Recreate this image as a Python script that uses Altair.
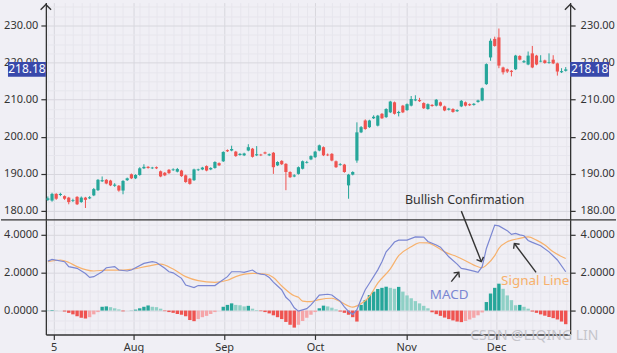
import altair as alt
import pandas as pd

# ---------------- data ----------------
OPEN = [183.0, 182.8, 184.6, 184.3, 184.0, 183.6, 182.7, 183.8, 182.4, 183.6,
        183.4, 184.2, 185.6, 188.0, 188.4, 188.2, 186.8, 186.8, 185.5, 188.3,
        189.9, 188.8, 189.7, 191.5, 191.9, 191.5, 191.8, 190.7, 190.3, 191.1,
        191.0, 190.6, 190.9, 189.6, 188.7, 188.3, 191.0, 191.2, 192.1, 191.2,
        191.6, 192.9, 193.4, 196.4, 196.3, 196.0, 195.1, 195.0, 196.3, 196.8,
        195.0, 195.2, 195.8, 195.0, 195.7, 192.3, 193.5, 192.7, 190.5, 189.3,
        190.0, 191.4, 193.0, 193.9, 194.5, 196.3, 197.2, 195.2, 195.4, 193.4,
        192.4, 192.5, 186.9, 189.8, 193.6, 201.2, 204.4, 202.6, 205.0, 203.0,
        206.2, 205.3, 206.6, 209.3, 206.4, 208.4, 207.2, 208.4, 209.8, 209.9,
        209.1, 207.5, 208.6, 208.4, 209.3, 208.2, 207.3, 207.5, 206.9, 208.2,
        209.3, 208.8, 208.6, 209.4, 209.8, 214.2, 221.4, 226.4, 226.8, 218.7,
        218.2, 217.8, 218.2, 221.8, 220.1, 219.5, 222.5, 221.9, 220.3, 220.6,
        219.9, 220.8, 219.8, 217.4, 217.8]
CLOSE = [183.4, 184.6, 183.3, 184.6, 183.3, 182.4, 182.9, 181.8, 183.6, 183.0,
         183.7, 185.9, 188.4, 188.3, 187.4, 186.9, 187.1, 185.5, 188.1, 188.8,
         188.8, 189.7, 191.5, 191.9, 191.6, 191.7, 191.5, 189.3, 189.6, 190.2,
         191.2, 191.3, 189.4, 187.8, 187.3, 191.2, 191.2, 191.7, 190.9, 191.6,
         193.2, 192.3, 195.9, 196.1, 196.7, 194.8, 195.4, 195.5, 197.2, 194.6,
         195.3, 195.0, 195.5, 195.3, 191.8, 193.2, 192.6, 190.5, 189.1, 189.6,
         191.8, 193.4, 193.2, 194.8, 196.0, 197.7, 195.0, 195.0, 193.6, 191.8,
         192.6, 190.5, 189.8, 190.5, 201.2, 202.6, 202.1, 204.4, 205.4, 205.7,
         205.0, 207.5, 209.5, 206.2, 206.7, 206.6, 208.8, 210.2, 210.1, 209.6,
         207.7, 208.8, 208.3, 210.0, 208.4, 207.1, 207.6, 206.7, 207.2, 209.7,
         208.4, 208.5, 208.9, 209.8, 213.1, 219.6, 225.9, 224.5, 219.2, 217.4,
         217.6, 217.5, 221.9, 220.8, 220.4, 221.9, 218.7, 219.5, 220.5, 219.9,
         220.1, 219.8, 217.6, 217.7, 218.18]
HIGH = [183.9, 184.9, 184.8, 184.9, 184.2, 183.8, 183.3, 184.0, 183.9, 183.8,
        184.0, 186.2, 188.6, 189.3, 188.6, 188.4, 187.5, 187.0, 188.3, 189.0,
        190.1, 189.9, 191.8, 192.6, 192.1, 191.9, 192.0, 190.9, 190.5, 191.3,
        191.5, 191.6, 191.1, 189.8, 188.9, 191.4, 191.4, 191.9, 192.3, 191.8,
        193.4, 193.1, 196.1, 196.6, 197.6, 196.2, 195.6, 195.7, 198.0, 197.0,
        197.5, 195.4, 196.0, 195.5, 195.9, 193.4, 193.7, 192.9, 190.7, 189.9,
        192.0, 193.6, 193.5, 195.0, 196.2, 197.9, 197.4, 195.5, 195.6, 193.6,
        192.9, 192.7, 190.0, 190.7, 203.9, 202.9, 204.7, 204.6, 205.8, 205.9,
        206.4, 207.7, 209.7, 209.5, 207.0, 208.6, 209.0, 211.0, 211.2, 210.5,
        209.3, 209.0, 208.8, 210.2, 209.5, 208.4, 207.8, 207.7, 207.4, 209.9,
        209.5, 209.0, 209.1, 210.0, 213.3, 219.8, 226.5, 227.0, 229.2, 218.9,
        218.4, 218.0, 222.1, 222.0, 220.7, 223.0, 224.5, 222.1, 222.0, 220.8,
        222.5, 222.0, 220.0, 218.5, 218.8]
LOW = [182.7, 182.5, 183.0, 184.0, 183.0, 181.8, 182.4, 181.6, 182.2, 180.8,
       183.2, 184.0, 185.4, 187.8, 187.2, 186.7, 186.5, 185.2, 184.5, 188.1,
       188.6, 188.6, 189.5, 191.3, 191.4, 191.3, 191.3, 189.1, 189.4, 190.0,
       190.8, 190.4, 189.2, 187.6, 187.1, 188.1, 190.8, 191.0, 190.7, 191.0,
       191.4, 192.1, 193.2, 195.9, 196.1, 194.6, 194.9, 194.8, 196.1, 194.4,
       194.8, 194.8, 195.3, 194.8, 190.0, 192.1, 192.4, 185.6, 188.9, 189.1,
       189.8, 191.2, 192.8, 193.7, 194.3, 196.1, 194.8, 194.8, 193.4, 191.6,
       192.2, 190.3, 183.3, 189.6, 193.0, 201.0, 201.9, 202.4, 204.8, 202.8,
       204.8, 205.1, 206.4, 206.0, 205.5, 206.4, 207.0, 208.2, 209.6, 209.4,
       207.5, 207.3, 208.1, 208.2, 208.2, 206.9, 207.1, 206.5, 206.7, 208.0,
       208.2, 208.3, 208.4, 209.2, 209.6, 214.0, 220.5, 224.3, 218.5, 216.8,
       217.2, 216.3, 218.0, 220.6, 219.9, 219.3, 218.5, 219.3, 220.1, 219.7,
       219.7, 219.6, 216.5, 217.2, 217.6]
HIST = [0.01, 0.03, 0.01, 0.0, -0.05, -0.12, -0.2, -0.3, -0.38, -0.42,
        -0.35, -0.2, -0.08, 0.2, 0.22, 0.18, 0.12, 0.06, -0.04, 0.0,
        0.01, 0.05, 0.12, 0.2, 0.27, 0.2, 0.18, 0.1, -0.03, -0.08,
        -0.12, -0.18, -0.22, -0.3, -0.5, -0.56, -0.45, -0.35, -0.28, -0.18,
        -0.08, 0.0, 0.2, 0.3, 0.38, 0.3, 0.28, 0.22, 0.25, 0.1,
        0.03, -0.03, -0.08, -0.15, -0.25, -0.35, -0.45, -0.6, -0.75, -0.9,
        -0.75, -0.55, -0.38, -0.22, -0.08, 0.12, 0.26, 0.22, 0.15, 0.06,
        -0.05, -0.12, -0.22, -0.35, -0.58, 0.3, 0.56, 0.82, 1.0, 1.14,
        1.2, 1.26, 1.2, 1.15, 1.25, 1.0, 0.8, 0.65, 0.5, 0.38,
        0.25, 0.12, -0.09, -0.19, -0.28, -0.37, -0.45, -0.52, -0.58, -0.61,
        -0.55, -0.47, -0.38, -0.25, -0.1, 0.45, 0.9, 1.2, 1.42, 1.15,
        0.8, 0.55, 0.28, 0.3, 0.2, 0.1, -0.05, -0.12, -0.2, -0.27,
        -0.34, -0.4, -0.47, -0.58, -0.72]
MACD_I = [0, 1, 4, 5, 7, 9, 10, 11, 13, 14, 16, 17, 19, 20, 23, 25, 26, 28, 29, 30,
          32, 33, 35, 36, 40, 41, 43, 44, 46, 47, 49, 50, 51, 52, 53, 54, 55, 56, 57, 58,
          59, 60, 62, 63, 64, 65, 67, 68, 69, 70, 71, 72, 73, 74, 75, 76, 77, 79, 80, 81,
          82, 83, 84, 86, 88, 90, 91, 93, 94, 96, 98, 99, 100, 102, 103, 104, 105, 107, 108, 110,
          111, 112, 113, 114, 115, 116, 118, 120, 122, 124]
MACD_V = [2.61, 2.70, 2.58, 2.32, 2.23, 1.96, 1.75, 1.79, 2.05, 2.26,
          2.32, 2.14, 2.09, 2.14, 2.49, 2.58, 2.54, 2.23, 2.05, 1.99,
          1.70, 1.35, 1.21, 1.32, 1.32, 1.48, 1.79, 2.05, 2.05, 2.02,
          2.14, 1.98, 1.92, 1.89, 1.75, 1.5, 1.3, 1.09, 0.7, 0.5,
          0.15, -0.03, 0.1, 0.3, 0.55, 0.82, 0.86, 0.82, 0.65, 0.5,
          0.2, -0.05, -0.2, 0.05, 0.6, 1.1, 1.44, 2.15, 2.58, 3.1,
          3.35, 3.62, 3.72, 3.72, 3.89, 3.88, 3.65, 3.46, 3.35, 2.84,
          2.45, 2.23, 2.19, 2.08, 2.02, 2.32, 3.28, 4.51, 4.47, 4.22,
          4.02, 4.07, 4.0, 3.95, 3.7, 3.6, 3.42, 3.1, 2.67, 2.05]
SIG_I = [0, 3, 5, 7, 11, 14, 18, 20, 24, 27, 30, 33, 36, 40, 43, 45, 49, 52, 54, 56,
         59, 60, 61, 63, 65, 68, 70, 73, 74, 77, 79, 82, 84, 87, 89, 91, 93, 95, 98, 100,
         102, 104, 105, 107, 108, 110, 113, 115, 117, 119, 121, 124]
SIG_V = [2.58, 2.67, 2.54, 2.32, 2.09, 2.14, 2.14, 2.18, 2.35, 2.45,
         2.19, 1.79, 1.58, 1.49, 1.60, 1.79, 1.96, 1.93, 1.75, 1.30,
         0.78, 0.70, 0.50, 0.47, 0.58, 0.65, 0.47, 0.18, 0.25, 0.75,
         1.45, 2.2, 2.9, 3.37, 3.58, 3.57, 3.37, 3.1, 2.84, 2.63,
         2.40, 2.26, 2.4, 2.9, 3.28, 3.63, 3.81, 3.89, 3.72, 3.46,
         3.1, 2.75]
MONTH_POS = [1.4, 20.5, 42.2, 64.0, 85.8, 107.3]
MONTH_LAB = ["5", "Aug", "Sep", "Oct", "Nov", "Dec"]
LAST_PRICE = 218.18

# annotations (index / value coordinates)
BULL_TXT = {"x": 99.8, "y": 182.9, "t": "Bullish Confirmation"}
LBL_X = [96.1, 116.7]
LBL_Y = [0.83, 1.56]
LBL_T = ["MACD", "Signal Line"]
ARR_X0 = [99.0, 96.6, 116.9]
ARR_Y0 = [5.25, 1.53, 2.02]
ARR_X1 = [103.8, 98.4, 111.7]
ARR_Y1 = [2.58, 2.02, 3.54]
ARR_ANG = [159.0, 39.0, 323.0]

# ---------------- styles ----------------
UP, DOWN = "#26a69a", "#ef5350"
UP_L, DOWN_L = "#8fd0c6", "#f5a6a9"
MACD_C, SIG_C = "#7b87d2", "#f7b16c"
TAG_C = "#3949ab"
BG = "#f0eff5"
MAJOR_C, MINOR_C = "#d8d7de", "#e7e6ed"
AX_C = "#333333"
FONT = "Noto Sans"
CHEV = "M-1,1L0,0L1,1"

W, H_TOP, H_BOT = 526, 218, 115

# ---------------- frames ----------------
n = len(CLOSE)
candles = pd.DataFrame({"i": list(range(n)), "o": OPEN, "c": CLOSE, "h": HIGH, "l": LOW})
candles["dir"] = ["up" if c >= o else "down" for o, c in zip(OPEN, CLOSE)]

cats = []
prev = 0.0
for hv in HIST:
    if hv >= 0:
        cats.append("gs" if hv >= prev else "gw")
    else:
        cats.append("rs" if hv <= prev else "rw")
    prev = hv
hist = pd.DataFrame({"i": list(range(n)), "h": HIST, "cat": cats})
macd = pd.DataFrame({"i": MACD_I, "v": MACD_V})
sig = pd.DataFrame({"i": SIG_I, "v": SIG_V})
tag = pd.DataFrame({"p": [LAST_PRICE], "t": [f"{LAST_PRICE:.2f}"]})
one = pd.DataFrame({"a": [0]})
bull = pd.DataFrame([BULL_TXT])
lbl = pd.DataFrame({"x": LBL_X, "y": LBL_Y, "t": LBL_T, "col": [MACD_C, SIG_C]})
arr = pd.DataFrame({"x0": ARR_X0, "y0": ARR_Y0, "x1": ARR_X1, "y1": ARR_Y1, "ang": ARR_ANG})

# ---------------- scales & axes ----------------
xs = alt.Scale(domain=[-0.48, 125.06], nice=False, zero=False, padding=0)
ys_top = alt.Scale(domain=[177.6, 236.2], nice=False, zero=False, padding=0)
ys_bot = alt.Scale(domain=[-1.263, 4.789], nice=False, zero=False, padding=0)

x_minor = [float(v) for v in range(0, 126, 2) if min(abs(v - m) for m in MONTH_POS) > 1.2]
x_vals = sorted(MONTH_POS + x_minor)
x_major = "indexof([" + ",".join(str(p) for p in MONTH_POS) + "], datum.value) >= 0"
x_label = " : ".join(f"datum.value === {p} ? '{l}'" for p, l in zip(MONTH_POS, MONTH_LAB)) + " : ''"

def cond(test, a, b):
    return {"condition": {"test": test, "value": a}, "value": b}

x_axis_top = alt.Axis(values=x_vals, labels=False, ticks=False, domain=False, title=None,
                      grid=True, gridColor=cond(x_major, MAJOR_C, MINOR_C), gridWidth=1)
x_axis_bot = alt.Axis(values=x_vals, labelExpr=x_label, title=None, grid=True,
                      gridColor=cond(x_major, MAJOR_C, MINOR_C), gridWidth=1,
                      domain=True, domainColor=AX_C, domainWidth=1.3,
                      ticks=True, tickColor=AX_C, tickSize=5, tickWidth=1.2,
                      tickOpacity=cond(x_major, 1, 0),
                      labelPadding=2, labelOverlap=False, labelFlush=False, labelBound=False)

yt_vals = [180 + 2.5 * k for k in range(23)]
yt_major = "datum.value % 10 === 0"
yt_label = "datum.value % 10 === 0 ? format(datum.value, '.2f') : ''"
yb_vals = [-1.0 + 0.5 * k for k in range(12)]
yb_major = "datum.value % 2 === 0"
yb_label = "datum.value % 2 === 0 ? format(datum.value, '.4f') : ''"

def yaxis(vals, major, label, orient, grid):
    kw = dict(values=vals, labelExpr=label, title=None, orient=orient,
              domain=True, domainColor=AX_C, domainWidth=1.3,
              ticks=True, tickColor=AX_C, tickSize=5, tickWidth=1.2,
              tickOpacity=cond(major, 1, 0),
              labelPadding=3 if orient == "left" else 5,
              labelOverlap=False, labelFlush=False, labelBound=False, grid=grid)
    if grid:
        kw["gridColor"] = cond(major, MAJOR_C, MINOR_C)
        kw["gridWidth"] = 1
    return alt.Axis(**kw)

# ---------------- top panel ----------------
col_dir = alt.Color("dir:N", scale=alt.Scale(domain=["up", "down"], range=[UP, DOWN]), legend=None)
wick = alt.Chart(candles).mark_rule(strokeWidth=1).encode(
    x=alt.X("i:Q", scale=xs, axis=x_axis_top),
    y=alt.Y("l:Q", scale=ys_top, axis=yaxis(yt_vals, yt_major, yt_label, "left", True)),
    y2="h:Q", color=col_dir)
body = alt.Chart(candles).mark_bar(size=3.2).encode(
    x=alt.X("i:Q", scale=xs, axis=x_axis_top),
    y=alt.Y("o:Q", scale=ys_top, axis=yaxis(yt_vals, yt_major, yt_label, "right", False)),
    y2="c:Q", color=col_dir)
tag_l = alt.Chart(tag).mark_rule(strokeWidth=15, color=TAG_C).encode(
    x=alt.value(-38), x2=alt.value(0), y=alt.Y("p:Q", scale=ys_top, axis=None))
tag_r = alt.Chart(tag).mark_rule(strokeWidth=15, color=TAG_C).encode(
    x=alt.value(526), x2=alt.value(565), y=alt.Y("p:Q", scale=ys_top, axis=None))
tag_tl = alt.Chart(tag).mark_text(color="white", fontSize=12, font=FONT).encode(
    x=alt.value(-19), y=alt.Y("p:Q", scale=ys_top, axis=None), text="t:N")
tag_tr = alt.Chart(tag).mark_text(color="white", fontSize=12, font=FONT).encode(
    x=alt.value(545.5), y=alt.Y("p:Q", scale=ys_top, axis=None), text="t:N")
chev_l = alt.Chart(one).mark_point(shape=CHEV, size=110, filled=False, stroke=AX_C,
                                   strokeWidth=1.4, opacity=1).encode(x=alt.value(0), y=alt.value(2))
chev_r = alt.Chart(one).mark_point(shape=CHEV, size=110, filled=False, stroke=AX_C,
                                   strokeWidth=1.4, opacity=1).encode(x=alt.value(526), y=alt.value(2))
bull_t = alt.Chart(bull).mark_text(fontSize=12.5, color="#333333", font=FONT).encode(
    x=alt.X("x:Q", scale=xs, axis=x_axis_top),
    y=alt.Y("y:Q", scale=ys_top, axis=None), text="t:N")

top = alt.layer(wick, body, tag_l, tag_r, tag_tl, tag_tr, chev_l, chev_r, bull_t).resolve_axis(
    y="independent").properties(width=W, height=H_TOP)

# ---------------- bottom panel ----------------
bars = alt.Chart(hist).mark_bar(size=3.4).encode(
    x=alt.X("i:Q", scale=xs, axis=x_axis_bot),
    y=alt.Y("h:Q", scale=ys_bot, axis=yaxis(yb_vals, yb_major, yb_label, "left", True)),
    y2=alt.datum(0),
    color=alt.Color("cat:N", scale=alt.Scale(domain=["gs", "gw", "rs", "rw"],
                                             range=[UP, UP_L, DOWN, DOWN_L]), legend=None))
sig_line = alt.Chart(sig).mark_line(color=SIG_C, strokeWidth=1.2, interpolate="monotone").encode(
    x=alt.X("i:Q", scale=xs, axis=x_axis_bot),
    y=alt.Y("v:Q", scale=ys_bot, axis=yaxis(yb_vals, yb_major, yb_label, "right", False)))
macd_line = alt.Chart(macd).mark_line(color=MACD_C, strokeWidth=1.2).encode(
    x=alt.X("i:Q", scale=xs, axis=x_axis_bot),
    y=alt.Y("v:Q", scale=ys_bot, axis=None))
labels = alt.Chart(lbl).mark_text(fontSize=13.5, font=FONT).encode(
    x=alt.X("x:Q", scale=xs, axis=x_axis_bot),
    y=alt.Y("y:Q", scale=ys_bot, axis=None), text="t:N",
    color=alt.Color("col:N", scale=None))
arr_line = alt.Chart(arr).mark_rule(color="#333333", strokeWidth=1.4).encode(
    x=alt.X("x0:Q", scale=xs, axis=x_axis_bot), x2="x1:Q",
    y=alt.Y("y0:Q", scale=ys_bot, axis=None), y2="y1:Q")
arr_head = alt.Chart(arr).mark_point(shape=CHEV, size=56, filled=False, stroke="#333333",
                                     strokeWidth=1.4, opacity=1).encode(
    x=alt.X("x1:Q", scale=xs, axis=x_axis_bot),
    y=alt.Y("y1:Q", scale=ys_bot, axis=None),
    angle=alt.Angle("ang:Q", scale=None))
divider = alt.Chart(one).mark_rule(color=AX_C, strokeWidth=1.3).encode(
    x=alt.value(-45), x2=alt.value(572), y=alt.value(0))
wm = alt.Chart(one).mark_text(text="CSDN @LIQING LIN", fontSize=14, font=FONT,
                              color="#c4c4ca").encode(x=alt.value(490), y=alt.value(117))

bottom = alt.layer(bars, sig_line, macd_line, labels, arr_line, arr_head, divider, wm).resolve_axis(
    y="independent").properties(width=W, height=H_BOT)

chart = alt.vconcat(top, bottom, spacing=0, bounds="flush").resolve_scale(
    color="independent"
).properties(
    background=BG,
    padding={"left": 0, "top": 0, "right": 0, "bottom": 0},
).configure_view(stroke=None).configure_axis(
    labelFont=FONT, labelFontSize=11, labelColor="#333333"
).configure_text(font=FONT)

chart.save("out.html", embed_options={"renderer": "svg", "actions": False})
